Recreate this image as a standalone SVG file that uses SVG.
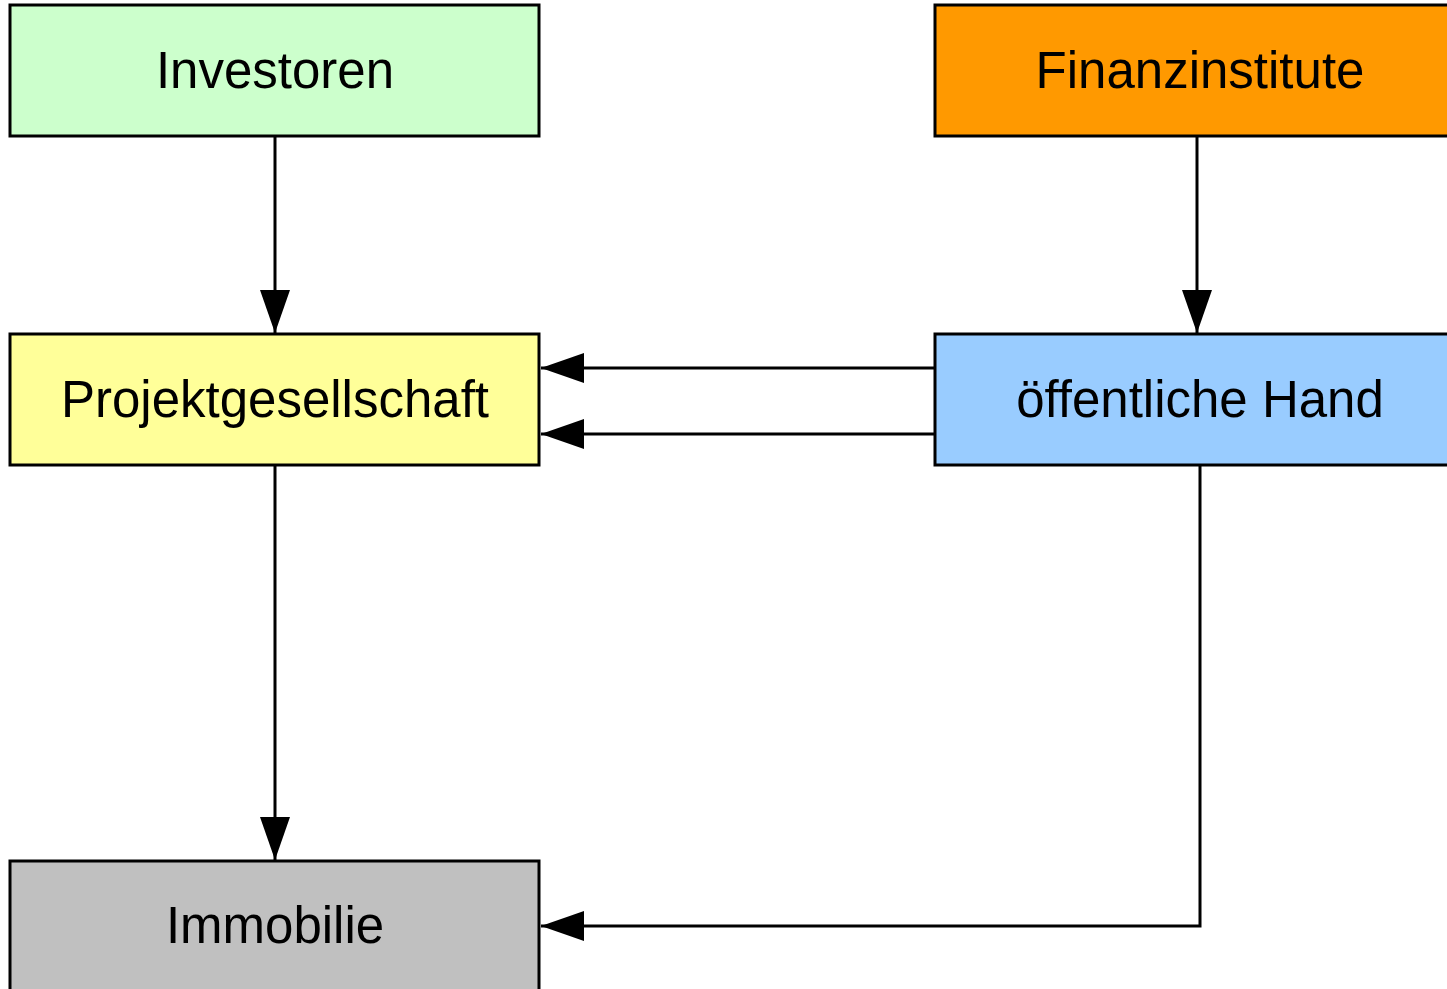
<svg xmlns="http://www.w3.org/2000/svg" width="1447" height="989" viewBox="0 0 1447 989">
<style>
.box{stroke:#000;stroke-width:3}
.lbl{font-family:"Liberation Sans",Arial,sans-serif;font-size:51px;text-anchor:middle;fill:#000}
.edge{stroke:#000;stroke-width:3;fill:none}
</style>
<defs>
<marker id="ah" markerUnits="userSpaceOnUse" markerWidth="44" markerHeight="32" refX="43" refY="15" orient="auto">
<path d="M0,0 L43,15 L0,30 Z" fill="#000"/>
</marker>
</defs>
<rect width="1447" height="989" fill="#fff"/>
<g id="investoren"><rect class="box" x="10" y="5" width="529" height="131" fill="#ccffcc"/><text class="lbl" x="275" y="88">Investoren</text></g>
<g id="finanzinstitute"><rect class="box" x="935" y="5" width="530" height="131" fill="#ff9900"/><text class="lbl" x="1200" y="88">Finanzinstitute</text></g>
<g id="projektgesellschaft"><rect class="box" x="10" y="334" width="529" height="131" fill="#ffff99"/><text class="lbl" x="275" y="417">Projektgesellschaft</text></g>
<g id="oeffentliche-hand"><rect class="box" x="935" y="334" width="530" height="131" fill="#99ccff"/><text class="lbl" x="1200" y="417">öffentliche Hand</text></g>
<g id="immobilie"><rect class="box" x="10" y="861" width="529" height="140" fill="#c0c0c0"/><text class="lbl" x="275" y="943">Immobilie</text></g>
<g id="connectors">
<line class="edge" x1="275" y1="136" x2="275" y2="333" marker-end="url(#ah)"/>
<line class="edge" x1="1197" y1="136" x2="1197" y2="333" marker-end="url(#ah)"/>
<line class="edge" x1="935" y1="368" x2="541" y2="368" marker-end="url(#ah)"/>
<line class="edge" x1="935" y1="434" x2="541" y2="434" marker-end="url(#ah)"/>
<line class="edge" x1="275" y1="465" x2="275" y2="860" marker-end="url(#ah)"/>
<polyline class="edge" points="1200,465 1200,926 541,926" marker-end="url(#ah)"/>
</g>
</svg>
